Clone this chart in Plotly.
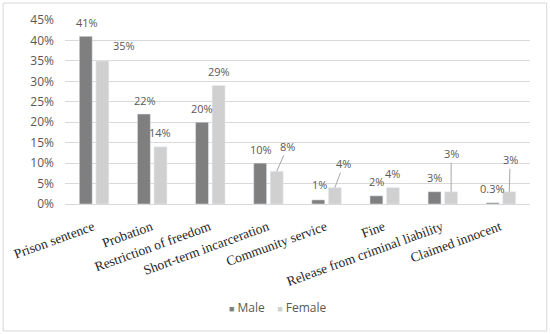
import plotly.graph_objects as go

categories = ["Prison sentence", "Probation", "Restriction of freedom", "Short-term incarceration",
              "Community service", "Fine", "Release from criminal liability", "Claimed innocent"]
male = [41, 22, 20, 10, 1, 2, 3, 0.3]
female = [35, 14, 29, 8, 4, 4, 3, 3]
male_labels = ["41%", "22%", "20%", "10%", "1%", "2%", "3%", "0.3%"]
female_labels = ["35%", "14%", "29%", "8%", "4%", "4%", "3%", "3%"]
y_ticks = [0, 5, 10, 15, 20, 25, 30, 35, 40, 45]
y_tick_text = [f"{v}%" for v in y_ticks]

MALE_C = "#7f7f7f"
FEMALE_C = "#d0d0d0"
SHIFT = 8.3

fig = go.Figure()
fig.add_trace(go.Bar(x=categories, y=male, name="Male", marker=dict(color=MALE_C)))
fig.add_trace(go.Bar(x=categories, y=female, name="Female", marker=dict(color=FEMALE_C)))

label_font = dict(family="Open Sans, Liberation Sans, sans-serif", size=11, color="#595959")

# (dx, dy, leader) per label: offsets of label centre from bar top
male_off = [(1, -14, False), (1, -14, False), (0, -14, False), (1, -14, False),
            (1, -15, False), (0, -14, False), (0, -14, False), (0, -14, False)]
female_off = [(22, -15, False), (0, -14, False), (0, -14, False), (11, -25, True),
              (9, -24, True), (0, -14, False), (0, -38, True), (1, -32, True)]

annotations = []
for cat, val, lab, (dx, dy, lead) in zip(categories, male, male_labels, male_off):
    annotations.append(dict(x=cat, y=val, text=lab, showarrow=False, xshift=-SHIFT + dx,
                            yshift=-dy, font=label_font))
for cat, val, lab, (dx, dy, lead) in zip(categories, female, female_labels, female_off):
    if lead:
        annotations.append(dict(x=cat, y=val, text=lab, showarrow=True, ax=dx, ay=dy,
                                xshift=SHIFT, arrowhead=0, arrowwidth=1, arrowcolor="#a6a6a6",
                                standoff=0, font=label_font))
    else:
        annotations.append(dict(x=cat, y=val, text=lab, showarrow=False, xshift=SHIFT + dx,
                                yshift=-dy, font=label_font))

legend_text = (f'<span style="color:{MALE_C};font-size:9px">■</span> Male    '
               f'<span style="color:{FEMALE_C};font-size:9px">■</span> Female')
annotations.append(dict(xref="paper", yref="paper", x=0.457, y=-0.565, xanchor="center", yanchor="middle",
                        text=legend_text, showarrow=False,
                        font=dict(family="Open Sans, Liberation Sans, sans-serif", size=12, color="#595959")))

fig.update_layout(
    width=550, height=334,
    margin=dict(l=65, r=20, t=20, b=130, autoexpand=False),
    paper_bgcolor="white", plot_bgcolor="white",
    barmode="group", bargap=0.43, bargroupgap=0.22,
    showlegend=False,
    annotations=annotations,
    shapes=[dict(type="rect", xref="paper", yref="paper", x0=-0.133, x1=1.036, y0=-0.69, y1=1.092,
                 line=dict(color="#d9d9d9", width=1), fillcolor="rgba(0,0,0,0)", layer="below")],
)
fig.update_xaxes(tickangle=-20, tickfont=dict(family="Liberation Serif, serif", size=13.5, color="#262626"),
                 showline=True, linecolor="#d9d9d9", showgrid=False, ticks="", automargin=False,
                 ticklabelshift=-1, ticklabelstandoff=9)
fig.update_yaxes(range=[0, 45], tickvals=y_ticks, ticktext=y_tick_text, showgrid=True, gridcolor="#d9d9d9",
                 zeroline=False, ticklabelstandoff=10, automargin=False,
                 tickfont=dict(family="Open Sans, Liberation Sans, sans-serif", size=12, color="#595959"))

fig.write_html("out.html", config={"displayModeBar": False},
               post_script="document.body.style.margin='0';document.body.style.padding='0';")
